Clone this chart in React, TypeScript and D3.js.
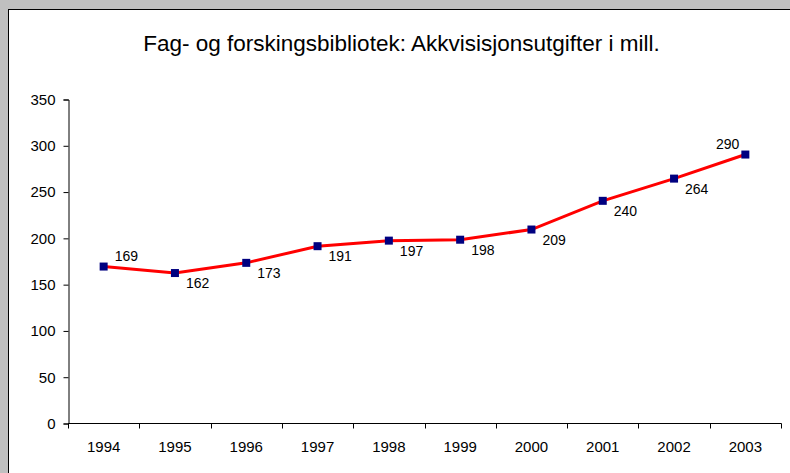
import React, { useEffect, useRef } from 'react';
import * as d3 from 'd3';

const years = ['1994', '1995', '1996', '1997', '1998', '1999', '2000', '2001', '2002', '2003'];
const values = [169, 162, 173, 191, 197, 198, 209, 240, 264, 290];
const yTicks = [0, 50, 100, 150, 200, 250, 300, 350];
const title = 'Fag- og forskingsbibliotek: Akkvisisjonsutgifter i mill.';

const W = 790;
const H = 473;

const App = () => {
  const ref = useRef<SVGSVGElement>(null);

  useEffect(() => {
    const svg = d3.select(ref.current);
    svg.selectAll('*').remove();

    const font = '"Liberation Sans", Arial, sans-serif';

    // grey surround and white chart area
    svg.append('rect').attr('width', W).attr('height', H).attr('fill', '#c0c0c0');
    svg.append('rect')
      .attr('x', 8.5).attr('y', 9.5)
      .attr('width', W).attr('height', H)
      .attr('fill', '#fff').attr('stroke', '#000').attr('stroke-width', 1);

    svg.append('text')
      .attr('x', 401.5).attr('y', 51)
      .attr('text-anchor', 'middle')
      .attr('font-family', font).attr('font-size', 22.5)
      .text(title);

    const left = 68;
    const right = 781;
    const top = 99;
    const bottom = 423;

    const x = d3.scaleBand().domain(years).range([left, right]);
    const y = d3.scaleLinear().domain([0, 350]).range([bottom, top]);

    // y axis
    const yAxis = svg.append('g')
      .attr('transform', `translate(${left + 0.5},0.5)`)
      .call(d3.axisLeft(y).tickValues(yTicks).tickSize(5).tickPadding(8));
    yAxis.select('.domain').attr('stroke', '#000');
    yAxis.selectAll('line').attr('stroke', '#000');
    yAxis.selectAll('text')
      .attr('font-family', font).attr('font-size', 15).attr('fill', '#000');

    // x axis (ticks between categories)
    const xg = svg.append('g').attr('transform', `translate(0,${bottom + 0.5})`);
    xg.append('line')
      .attr('x1', left).attr('x2', right + 0.5)
      .attr('stroke', '#000');
    const edges = years.map((d) => x(d)!).concat([right]);
    xg.selectAll('line.tick')
      .data(edges)
      .enter()
      .append('line')
      .attr('class', 'tick')
      .attr('x1', (d) => Math.round(d) + 0.5)
      .attr('x2', (d) => Math.round(d) + 0.5)
      .attr('y1', 0).attr('y2', 5)
      .attr('stroke', '#000');
    xg.selectAll('text')
      .data(years)
      .enter()
      .append('text')
      .attr('x', (d) => x(d)! + x.bandwidth() / 2)
      .attr('y', 28.5)
      .attr('text-anchor', 'middle')
      .attr('font-family', font).attr('font-size', 15)
      .text((d) => d);

    const cx = (i: number) => x(years[i])! + x.bandwidth() / 2;

    // line
    const line = d3.line<number>()
      .x((_, i) => cx(i))
      .y((d) => y(d));
    svg.append('path')
      .datum(values)
      .attr('d', line)
      .attr('fill', 'none')
      .attr('stroke', '#ff0000')
      .attr('stroke-width', 3);

    // markers
    svg.selectAll('rect.marker')
      .data(values)
      .enter()
      .append('rect')
      .attr('class', 'marker')
      .attr('x', (_, i) => cx(i) - 4)
      .attr('y', (d) => y(d) - 4)
      .attr('width', 8).attr('height', 8)
      .attr('fill', '#000080');

    // data labels: first above-right, last above-left, others below-right
    const n = values.length;
    svg.selectAll('text.lbl')
      .data(values)
      .enter()
      .append('text')
      .attr('class', 'lbl')
      .attr('x', (_, i) => (i === n - 1 ? cx(i) - 6 : cx(i) + 11))
      .attr('y', (d, i) => (i === 0 || i === n - 1 ? y(d) - 6 : y(d) + 15))
      .attr('text-anchor', (_, i) => (i === n - 1 ? 'end' : 'start'))
      .attr('font-family', font).attr('font-size', 14)
      .text((d) => d);
  }, []);

  return (
    <svg
      ref={ref}
      width={W}
      height={H}
      style={{ position: 'fixed', top: 0, left: 0, display: 'block' }}
    />
  );
};

export default App;
